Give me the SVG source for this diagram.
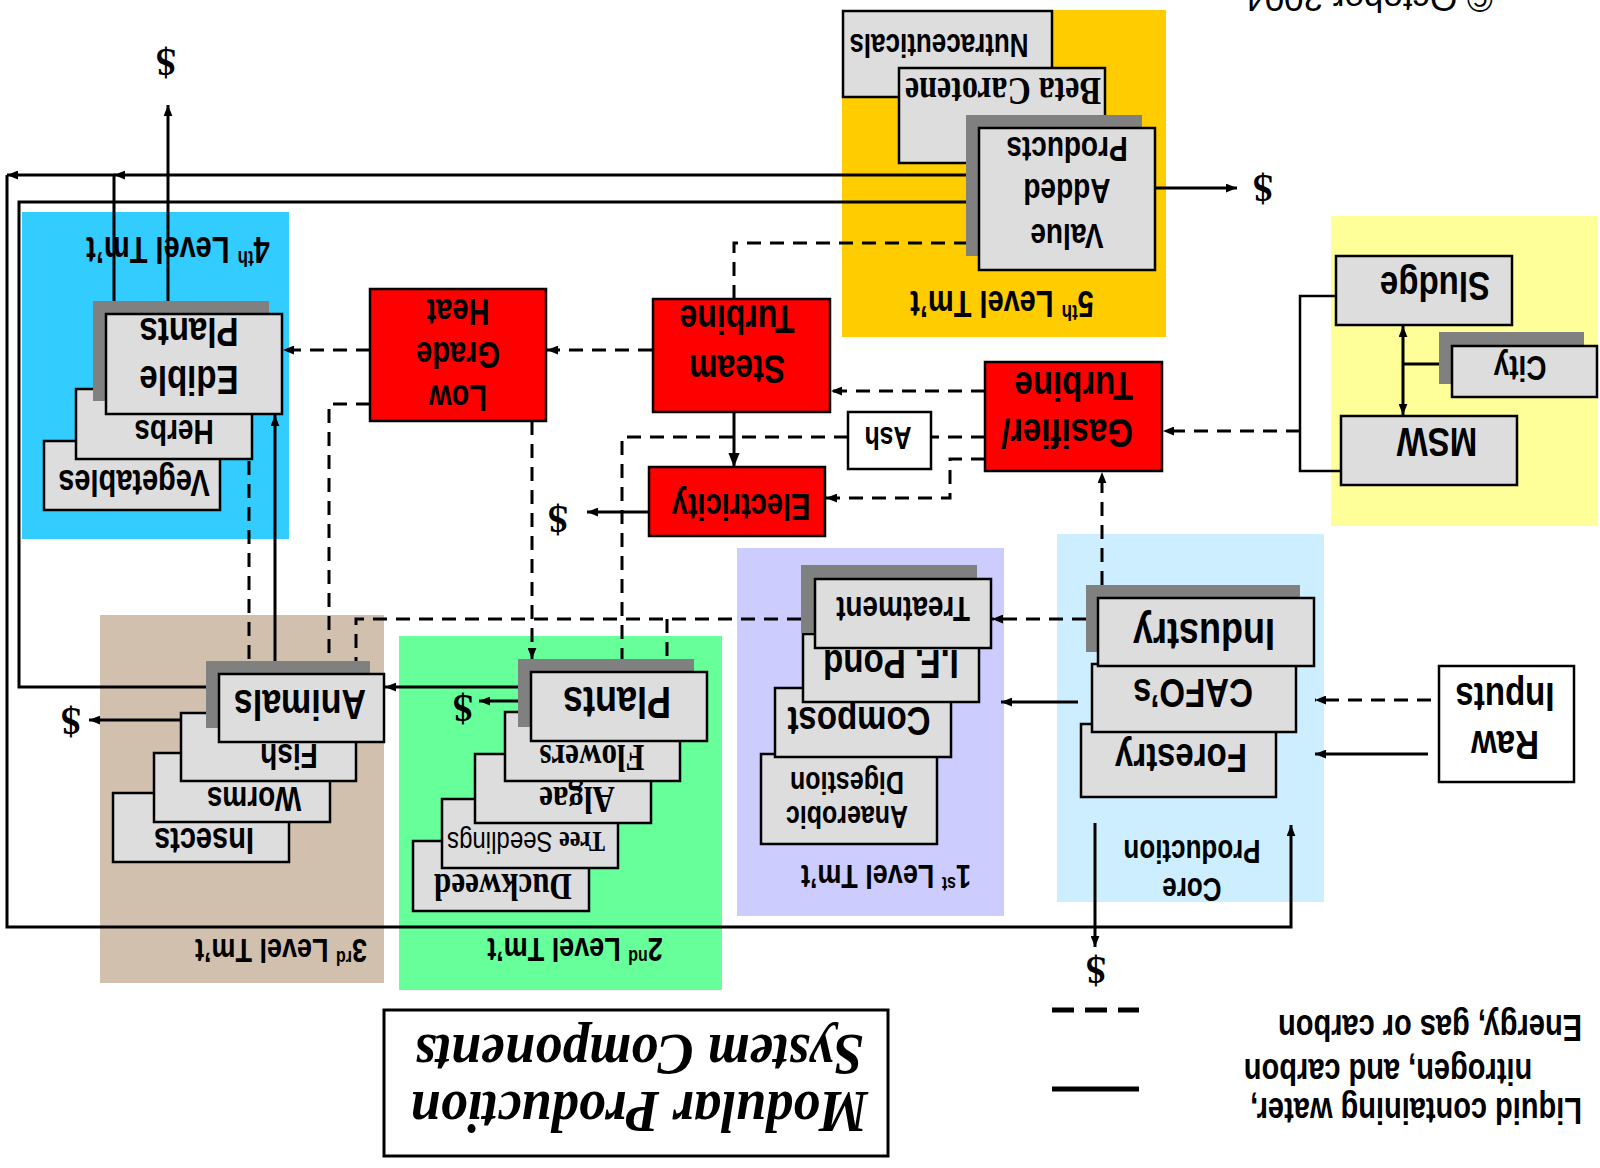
<svg xmlns="http://www.w3.org/2000/svg" width="1600" height="1168" viewBox="0 0 1600 1168">
  <style>
    .box{fill:#dddddd;stroke:#000;stroke-width:2.5}
    .wbox{fill:#fff;stroke:#000;stroke-width:2.5}
    .red{fill:#ff0000;stroke:#000;stroke-width:2.5}
    .sh{fill:#808080}
    .t{font-family:"Liberation Sans",Arial,sans-serif;font-weight:bold;text-anchor:middle;fill:#000}
    .st{text-anchor:start}
    .s{font-family:"Liberation Serif","Times New Roman",serif;font-weight:bold;text-anchor:middle;fill:#000}
    .c{fill:none;stroke:#000;stroke-width:3}
    .thin{stroke-width:2.5}
    .d{stroke-dasharray:14 9}
    .ae{marker-end:url(#ah)}
    .ab{marker-start:url(#ah);marker-end:url(#ah)}
  </style>
  <defs>
    <marker id="ah" viewBox="0 0 10 8" refX="10" refY="4" markerWidth="11" markerHeight="9" markerUnits="userSpaceOnUse" orient="auto-start-reverse">
      <path d="M0,0L10,4L0,8z" fill="#000"/>
    </marker>
    <marker id="ahb" viewBox="0 0 10 8" refX="10" refY="4" markerWidth="14" markerHeight="13" markerUnits="userSpaceOnUse" orient="auto">
      <path d="M0,0L10,4L0,8z" fill="#000"/>
    </marker>
  </defs>

  <!-- the whole slide is shown turned upside down: shapes are placed directly,
       each label is turned 180 degrees about its own anchor and drawn a little tall -->

  <!-- treatment level panels -->
  <g id="panels">
    <rect x="22" y="212" width="267" height="327" fill="#33ccff"/>
    <rect x="842" y="10" width="324" height="327" fill="#ffcc00"/>
    <rect x="1331" y="216" width="267" height="310" fill="#ffff99"/>
    <rect x="100" y="615" width="284" height="368" fill="#d2c0ae"/>
    <rect x="399" y="636" width="323" height="354" fill="#66ff99"/>
    <rect x="737" y="548" width="267" height="368" fill="#ccccff"/>
    <rect x="1057" y="534" width="267" height="368" fill="#cceeff"/>
    <text class="t" font-size="29" transform="translate(178,237) rotate(180) scale(1,1.25)">4<tspan font-size="17" dy="-11">th</tspan><tspan dy="11"> Level Tm’t</tspan></text>
    <text class="t" font-size="29" transform="translate(1002,291) rotate(180) scale(1,1.25)">5<tspan font-size="17" dy="-11">th</tspan><tspan dy="11"> Level Tm’t</tspan></text>
    <text class="t" font-size="27" transform="translate(281,939) rotate(180) scale(1,1.25)">3<tspan font-size="16" dy="-10">rd</tspan><tspan dy="10"> Level Tm’t</tspan></text>
    <text class="t" font-size="27" transform="translate(575,938) rotate(180) scale(1,1.25)">2<tspan font-size="16" dy="-10">nd</tspan><tspan dy="10"> Level Tm’t</tspan></text>
    <text class="t" font-size="27" transform="translate(886,865) rotate(180) scale(1,1.25)">1<tspan font-size="16" dy="-10">st</tspan><tspan dy="10"> Level Tm’t</tspan></text>
    <text class="t" font-size="26" transform="translate(1192,840) rotate(180) scale(1,1.25)">Production</text>
    <text class="t" font-size="26" transform="translate(1192,878) rotate(180) scale(1,1.25)">Core</text>
  </g>

  <!-- connectors -->
  <g id="connectors">
    <path class="c ae" d="M977,175H114"/>
    <path class="c ae" d="M114,301V175H7"/>
    <path class="c ae" d="M7,175V927H1291V825"/>
    <path class="c ae" d="M206,687H19V202H977"/>
    <path class="c ae" d="M168,301V105"/>
    <path class="c ae" d="M275,661V415"/>
    <path class="c" d="M734,412V467" stroke-width="4" marker-end="url(#ahb)"/>
    <path class="c ae" d="M649,512H587"/>
    <path class="c ae" d="M1155,188H1237"/>
    <path class="c ae" d="M518,687H385"/>
    <path class="c ae" d="M531,701H479"/>
    <path class="c ae" d="M206,720H89"/>
    <path class="c ae" d="M1078,702H1001"/>
    <path class="c ae" d="M1095,823V947"/>
    <path class="c ae" d="M1428,754H1315"/>
    <path class="c thin" d="M1342,296H1300V471H1342"/>
    <path class="c ab" d="M1403,326V415"/>
    <path class="c" d="M1403,364H1448"/>

    <path class="c d ae" d="M652,350H547"/>
    <path class="c d ae" d="M370,350H283"/>
    <path class="c d ab" d="M249,415V673"/>
    <path class="c d ae" d="M370,404H329V673"/>
    <path class="c d ae" d="M532,421V659"/>
    <path class="c d ae" d="M801,619H356V673"/>
    <path class="c d ae" d="M667,619V672"/>
    <path class="c d ae" d="M1086,619H992"/>
    <path class="c d" d="M985,437H931"/>
    <path class="c d ae" d="M848,437H622V670"/>
    <path class="c d ae" d="M985,459H950V498H826"/>
    <path class="c d ae" d="M985,391H831"/>
    <path class="c d ae" d="M734,299V243H977"/>
    <path class="c d ae" d="M1102,585V472"/>
    <path class="c d ae" d="M1300,431H1163"/>
    <path class="c d ae" d="M1431,700H1315"/>
  </g>

  <!-- money outputs -->
  <g id="sales">
    <text class="s" font-size="40" transform="translate(166,49) rotate(180)">$</text>
    <text class="s" font-size="40" transform="translate(1263,175) rotate(180)">$</text>
    <text class="s" font-size="40" transform="translate(558,506) rotate(180)">$</text>
    <text class="s" font-size="40" transform="translate(71,708) rotate(180)">$</text>
    <text class="s" font-size="40" transform="translate(463,695) rotate(180)">$</text>
    <text class="s" font-size="40" transform="translate(1096,957) rotate(180)">$</text>
  </g>

  <g id="edible-plants">
    <rect class="box" x="44" y="441" width="176" height="69"/>
    <text class="t" font-size="29" transform="translate(134,470) rotate(180) scale(1,1.25)">Vegetables</text>
    <rect class="box" x="76" y="389" width="176" height="70"/>
    <text class="t" font-size="28" transform="translate(174,420) rotate(180) scale(1,1.25)">Herbs</text>
    <rect class="sh" x="93" y="301" width="176" height="100"/>
    <rect class="box" x="106" y="314" width="176" height="100"/>
    <text class="t" font-size="33" transform="translate(189,318) rotate(180) scale(1,1.25)">Plants</text>
    <text class="t" font-size="33" transform="translate(189,366) rotate(180) scale(1,1.25)">Edible</text>
  </g>

  <g id="low-grade-heat">
    <rect class="red" x="370" y="289" width="176" height="132"/>
    <text class="t" font-size="29" transform="translate(458,299) rotate(180) scale(1,1.25)">Heat</text>
    <text class="t" font-size="29" transform="translate(458,342) rotate(180) scale(1,1.25)">Grade</text>
    <text class="t" font-size="29" transform="translate(458,385) rotate(180) scale(1,1.25)">Low</text>
  </g>

  <g id="steam-turbine">
    <rect class="red" x="653" y="299" width="177" height="113"/>
    <text class="t" font-size="32" transform="translate(737,305) rotate(180) scale(1,1.25)">Turbine</text>
    <text class="t" font-size="32" transform="translate(737,355) rotate(180) scale(1,1.25)">Steam</text>
  </g>

  <g id="value-added">
    <rect class="box" x="843" y="11" width="209" height="86"/>
    <text class="t" font-size="26" transform="translate(939,34) rotate(180) scale(1,1.25)">Nutraceuticals</text>
    <rect class="box" x="899" y="68" width="206" height="95"/>
    <text class="s" font-size="32" transform="translate(1003,78) rotate(180) scale(1,1.25)">Beta Carotene</text>
    <rect class="sh" x="966" y="115" width="176" height="141"/>
    <rect class="box" x="979" y="128" width="176" height="142"/>
    <text class="t" font-size="28" transform="translate(1067,137) rotate(180) scale(1,1.25)">Products</text>
    <text class="t" font-size="28" transform="translate(1067,179) rotate(180) scale(1,1.25)">Added</text>
    <text class="t" font-size="28" transform="translate(1067,224) rotate(180) scale(1,1.25)">Value</text>
  </g>

  <g id="gasifier">
    <rect class="red" x="985" y="362" width="177" height="109"/>
    <text class="t st" font-size="33" transform="translate(1133,372) rotate(180) scale(1,1.25)">Turbine</text>
    <text class="t st" font-size="33" transform="translate(1133,419) rotate(180) scale(1,1.25)">Gasifier/</text>
  </g>

  <g id="electricity">
    <rect class="red" x="649" y="467" width="176" height="69"/>
    <text class="t" font-size="29" transform="translate(741,494) rotate(180) scale(1,1.25)">Electricity</text>
  </g>

  <g id="ash">
    <rect class="wbox" x="848" y="412" width="83" height="57"/>
    <text class="t" font-size="25" transform="translate(888,427) rotate(180) scale(1,1.25)">Ash</text>
  </g>

  <g id="city-sources">
    <rect class="box" x="1336" y="256" width="176" height="69"/>
    <text class="t" font-size="33" transform="translate(1435,272) rotate(180) scale(1,1.25)">Sludge</text>
    <rect class="sh" x="1439" y="332" width="145" height="52"/>
    <rect class="box" x="1452" y="346" width="145" height="51"/>
    <text class="t" font-size="28" transform="translate(1520,356) rotate(180) scale(1,1.25)">City</text>
    <rect class="box" x="1341" y="416" width="176" height="69"/>
    <text class="t" font-size="33" transform="translate(1437,428) rotate(180) scale(1,1.25)">MSW</text>
  </g>

  <g id="animals">
    <rect class="box" x="113" y="793" width="176" height="69"/>
    <text class="t" font-size="29" transform="translate(204,828) rotate(180) scale(1,1.25)">Insects</text>
    <rect class="box" x="154" y="753" width="176" height="69"/>
    <text class="t" font-size="28" transform="translate(254,787) rotate(180) scale(1,1.25)">Worms</text>
    <rect class="box" x="181" y="713" width="175" height="68"/>
    <text class="t" font-size="28" transform="translate(289,744) rotate(180) scale(1,1.25)">Fish</text>
    <rect class="sh" x="206" y="661" width="164" height="67"/>
    <rect class="box" x="219" y="674" width="165" height="68"/>
    <text class="t" font-size="34" transform="translate(300,690) rotate(180) scale(1,1.25)">Animals</text>
  </g>

  <g id="plants">
    <rect class="box" x="413" y="841" width="176" height="70"/>
    <text class="s" font-size="31" transform="translate(503,874) rotate(180) scale(1,1.25)">Duckweed</text>
    <rect class="box" x="442" y="799" width="176" height="69"/>
    <text class="s" font-size="24" transform="translate(526,832) rotate(180) scale(1,1.25)">Tree<tspan font-family="Liberation Sans, Arial, sans-serif" font-weight="normal"> Seedlings</tspan></text>
    <rect class="box" x="475" y="754" width="176" height="69"/>
    <text class="s" font-size="31" transform="translate(577,787) rotate(180) scale(1,1.25)">Algae</text>
    <rect class="box" x="505" y="712" width="175" height="69"/>
    <text class="s" font-size="31" transform="translate(592,745) rotate(180) scale(1,1.25)">Flowers</text>
    <rect class="sh" x="518" y="659" width="176" height="68"/>
    <rect class="box" x="531" y="672" width="176" height="69"/>
    <text class="t" font-size="36" transform="translate(617,687) rotate(180) scale(1,1.25)">Plants</text>
  </g>

  <g id="treatment">
    <rect class="box" x="761" y="754" width="176" height="90"/>
    <text class="t" font-size="25" transform="translate(847,772) rotate(180) scale(1,1.25)">Digestion</text>
    <text class="t" font-size="25" transform="translate(847,806) rotate(180) scale(1,1.25)">Anaerobic</text>
    <rect class="box" x="775" y="688" width="176" height="69"/>
    <text class="t" font-size="33" transform="translate(859,707) rotate(180) scale(1,1.25)">Compost</text>
    <rect class="box" x="803" y="634" width="176" height="68"/>
    <text class="t" font-size="33" transform="translate(891,650) rotate(180) scale(1,1.25)">I.F. Pond</text>
    <rect class="sh" x="801" y="565" width="176" height="68"/>
    <rect class="box" x="815" y="579" width="176" height="69"/>
    <text class="t" font-size="28" transform="translate(903,597) rotate(180) scale(1,1.25)">Treatment</text>
  </g>

  <g id="core-production">
    <rect class="box" x="1081" y="724" width="195" height="73"/>
    <text class="t" font-size="33" transform="translate(1181,744) rotate(180) scale(1,1.25)">Forestry</text>
    <rect class="box" x="1092" y="664" width="204" height="68"/>
    <text class="t" font-size="33" transform="translate(1193,679) rotate(180) scale(1,1.25)">CAFO’s</text>
    <rect class="sh" x="1086" y="585" width="214" height="67"/>
    <rect class="box" x="1098" y="598" width="216" height="68"/>
    <text class="t" font-size="36" transform="translate(1204,619) rotate(180) scale(1,1.25)">Industry</text>
  </g>

  <g id="raw-inputs">
    <rect class="wbox" x="1439" y="666" width="135" height="116"/>
    <text class="t" font-size="33" transform="translate(1505,683) rotate(180) scale(1,1.25)">Inputs</text>
    <text class="t" font-size="33" transform="translate(1505,731) rotate(180) scale(1,1.25)">Raw</text>
  </g>

  <g id="title">
    <rect x="384" y="1010" width="504" height="146" fill="#fff" stroke="#000" stroke-width="3"/>
    <text class="s" font-size="54" font-style="italic" transform="translate(639,1035) rotate(180) scale(1,1.1)">System Components</text>
    <text class="s" font-size="54" font-style="italic" transform="translate(639,1092) rotate(180) scale(1,1.1)">Modular Production</text>
  </g>

  <g id="legend">
    <path d="M1052,1010H1139" stroke="#000" stroke-width="5" stroke-dasharray="22 11"/>
    <path d="M1052,1089H1139" stroke="#000" stroke-width="5"/>
    <text class="t st" font-size="29" transform="translate(1582,1015) rotate(180) scale(1,1.25)">Energy, gas or carbon</text>
    <text class="t" font-size="29" transform="translate(1388,1059) rotate(180) scale(1,1.25)">nitrogen, and carbon</text>
    <text class="t st" font-size="29" transform="translate(1582,1098) rotate(180) scale(1,1.25)">Liquid containing water,</text>
  </g>

  <text font-family="Liberation Sans, Arial, sans-serif" font-size="35" text-anchor="middle" transform="translate(1369,-13) rotate(180)">© October 2004</text>
</svg>
